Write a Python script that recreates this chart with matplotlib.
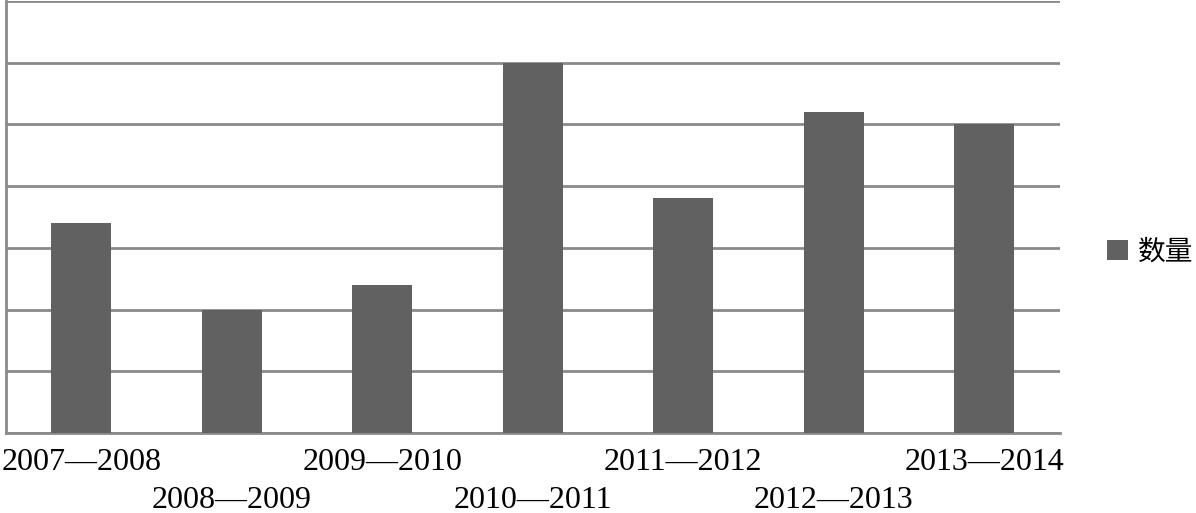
import matplotlib.pyplot as plt

# ── Data ──────────────────────────────────────────────────────────────────────
periods = ['2007—2008', '2008—2009', '2009—2010', '2010—2011',
           '2011—2012', '2012—2013', '2013—2014']
counts = [3.4, 2.0, 2.4, 6.0, 3.8, 5.2, 5.0]
series_name = '数量'

BAR_COLOR = '#616161'
GRID_COLOR = '#8a8a8a'

# ── Plot ──────────────────────────────────────────────────────────────────────
fig = plt.figure(figsize=(11.96, 5.13), dpi=100)
ax = fig.add_axes([0.005, 0.156, 0.881, 0.842])

x = list(range(len(periods)))
ax.bar(x, counts, width=0.4, color=BAR_COLOR, label=series_name, zorder=3)

ax.set_xlim(-0.5, len(periods) - 0.5)
ax.set_ylim(0, 7)
ax.set_yticks(range(0, 8))
ax.set_yticklabels([])
ax.tick_params(axis='y', length=0)
ax.grid(axis='y', color=GRID_COLOR, linewidth=2, zorder=0)

for side in ['top', 'right']:
    ax.spines[side].set_visible(False)
for side in ['left', 'bottom']:
    ax.spines[side].set_color(GRID_COLOR)
    ax.spines[side].set_linewidth(2)

ax.set_xticks(x)
ax.set_xticklabels(periods, fontsize=23, family='Liberation Serif')
ax.tick_params(axis='x', length=0)
for i, tick in enumerate(ax.xaxis.get_major_ticks()):
    tick.set_pad(11 if i % 2 == 0 else 38)

leg = ax.legend(loc='center left', bbox_to_anchor=(1.045, 0.42), frameon=False,
                handlelength=0.75, handleheight=0.75, handletextpad=0.35,
                borderpad=0, borderaxespad=0,
                prop={'family': ['Noto Sans CJK SC', 'DejaVu Sans'], 'size': 20})

fig.savefig('out.png', dpi=100)
